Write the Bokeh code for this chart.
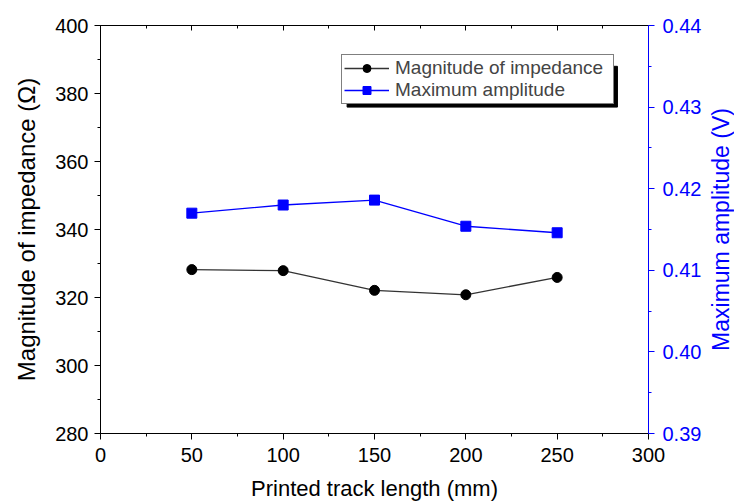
from bokeh.plotting import figure
from bokeh.layouts import row
from bokeh.models import (Range1d, LinearAxis, SingleIntervalTicker, NumeralTickFormatter,
                          FixedTicker, Legend, LegendItem)
from bokeh.embed import file_html
from bokeh.resources import INLINE

track_length = [50, 100, 150, 200, 250]
impedance = [328.2, 327.9, 322.1, 320.8, 325.9]
amplitude = [0.4170, 0.4180, 0.4186, 0.4154, 0.4146]

FONT = "Liberation Sans"
BLUE = "#0000FF"

p = figure(width=704, height=503, output_backend="svg", toolbar_location=None,
           x_range=Range1d(0, 300), y_range=Range1d(280, 400),
           min_border_left=100, min_border_right=56, min_border_top=25, min_border_bottom=70)
p.outline_line_color = None
p.xgrid.visible = False
p.ygrid.visible = False
p.background_fill_color = "white"
p.border_fill_color = "white"

p.extra_y_ranges = {"amp": Range1d(0.39, 0.44)}

def style_axis(ax, color="black"):
    ax.axis_line_color = color
    ax.major_tick_line_color = color
    ax.minor_tick_line_color = color
    ax.major_label_text_color = color
    ax.axis_label_text_color = color
    ax.major_label_text_font = FONT
    ax.axis_label_text_font = FONT
    ax.major_label_text_font_size = "20px"
    ax.axis_label_text_font_size = "22px"
    ax.axis_label_text_font_style = "normal"
    ax.major_tick_in = 0
    ax.major_tick_out = 6
    ax.minor_tick_in = 0
    ax.minor_tick_out = 3

xa = p.xaxis[0]
xa.ticker = SingleIntervalTicker(interval=50, num_minor_ticks=2)
xa.axis_label = "Printed track length (mm)"
style_axis(xa)
xa.major_label_standoff = 8
xa.axis_label_standoff = 11

ya = p.yaxis[0]
ya.ticker = SingleIntervalTicker(interval=20, num_minor_ticks=2)
ya.axis_label = "Magnitude of impedance (Ω)"
style_axis(ya)
ya.axis_label_text_font_size = "24px"
ya.major_label_standoff = 6
ya.axis_label_standoff = 12

ra = LinearAxis(y_range_name="amp",
                ticker=SingleIntervalTicker(interval=0.01, num_minor_ticks=2),
                formatter=NumeralTickFormatter(format="0.00"))
style_axis(ra, BLUE)
ra.major_label_standoff = 8
p.add_layout(ra, "right")

ta = LinearAxis(ticker=SingleIntervalTicker(interval=50, num_minor_ticks=2))
ta.major_label_text_color = None
ta.major_label_text_font_size = "1px"
ta.major_tick_in = 5
ta.major_tick_out = 0
ta.minor_tick_in = 3
ta.minor_tick_out = 0
ta.axis_line_color = "black"
p.add_layout(ta, "above")

# legend shadow
p.quad(left=[135], right=[283], top=[388], bottom=[376.0], fill_color="black", line_color="black")

l1 = p.line(track_length, impedance, line_color="#333333", line_width=1.3)
s1 = p.scatter(track_length, impedance, marker="circle", size=10, fill_color="black", line_color="black")
l2 = p.line(track_length, amplitude, y_range_name="amp", line_color=BLUE, line_width=1.3)
s2 = p.scatter(track_length, amplitude, y_range_name="amp", marker="square", size=10,
               fill_color=BLUE, line_color=BLUE)

legend = Legend(items=[LegendItem(label="Magnitude of impedance", renderers=[l1, s1]),
                       LegendItem(label="Maximum amplitude", renderers=[l2, s2])],
                location=(241, 329))
legend.label_text_font = FONT
legend.label_text_font_size = "19px"
legend.label_height = 20
legend.glyph_height = 20
legend.glyph_width = 45
legend.label_standoff = 6
legend.label_width = 216
legend.padding = 2
legend.spacing = 0
legend.margin = 0
legend.border_line_color = "black"
legend.border_line_width = 1
legend.background_fill_color = "white"
legend.background_fill_alpha = 1
p.add_layout(legend, "center")

# narrow companion panel that carries the right-hand axis title, read bottom-to-top
p2 = figure(width=30, height=503, output_backend="svg", toolbar_location=None,
            x_range=Range1d(0, 1), y_range=Range1d(0.39, 0.44),
            x_axis_location=None, y_axis_location="left",
            min_border_left=26, min_border_right=0, min_border_top=25, min_border_bottom=70)
p2.outline_line_color = None
p2.xgrid.visible = False
p2.ygrid.visible = False
p2.border_fill_color = "white"
t = p2.yaxis[0]
t.ticker = FixedTicker(ticks=[])
t.axis_label = "Maximum amplitude (V)"
t.axis_line_color = None
t.major_tick_line_color = None
t.minor_tick_line_color = None
t.major_label_text_color = None
t.major_tick_out = 0
t.minor_tick_out = 0
t.major_label_standoff = 0
t.axis_label_standoff = 0
t.axis_label_text_font = FONT
t.axis_label_text_font_size = "23px"
t.axis_label_text_font_style = "normal"
t.axis_label_text_color = BLUE

layout = row(p, p2, spacing=0)
open("out.html", "w").write(file_html(layout, INLINE))
